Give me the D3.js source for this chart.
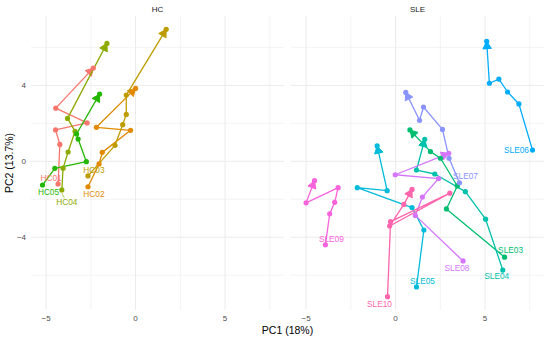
<!DOCTYPE html>
<html lang="en">
<head>
<meta charset="UTF-8">
<title>PCA trajectories</title>
<script src="https://d3js.org/d3.v7.min.js"></script>
<style>
  body { margin: 0; background: #fff; font-family: "Liberation Sans", Arial, sans-serif; }
  .grid line { stroke: #ebebeb; }
  .tick-label { font-size: 8px; fill: #4d4d4d; }
  .strip { font-size: 8px; fill: #1a1a1a; }
  .axis-title { font-size: 10.5px; fill: #000; }
  .lbl { font-size: 8.3px; }
</style>
</head>
<body>
<div id="chart"></div>
<script>
// one row per subject, six time points each (first = labelled start, last = arrow)
const subjects = ["HC01", "HC02", "HC03", "HC04", "HC05",
  "SLE03", "SLE04", "SLE05", "SLE06", "SLE07", "SLE08", "SLE09", "SLE10"];
const facets = ["HC", "HC", "HC", "HC", "HC",
  "SLE", "SLE", "SLE", "SLE", "SLE", "SLE", "SLE", "SLE"];
const pc1 = [
  [-4.33, -4.23, -4.47, -2.71, -4.46, -2.36],
  [-2.66, -2.04, -1.86, -0.28, -2.19, 0.00],
  [-2.66, -1.15, -0.72, -0.52, -0.52, 1.71],
  [-4.12, -4.05, -3.77, -3.38, -3.80, -1.60],
  [-5.20, -4.51, -2.75, -3.21, -3.30, -2.01],
  [6.09, 2.84, 3.45, 2.51, 1.95, 0.80],
  [5.99, 5.03, 3.90, 2.19, 1.17, 1.63],
  [1.17, 1.58, 0.92, -2.14, -0.47, -1.03],
  [7.65, 6.89, 6.26, 5.77, 5.24, 5.09],
  [3.57, 2.99, 2.62, 1.56, 1.34, 0.57],
  [3.77, 1.10, 1.50, 2.40, -0.02, 2.97],
  [-3.92, -3.68, -3.40, -3.21, -5.00, -4.53],
  [-0.45, -0.28, 3.03, -0.33, 0.46, 0.92]
];
const pc2 = [
  [-1.19, 0.89, 1.65, 2.02, 2.80, 4.91],
  [-1.34, -0.14, 0.47, 1.63, 1.79, 3.84],
  [-0.77, 0.84, 1.93, 2.47, 3.49, 6.95],
  [-1.51, -0.36, 0.49, 1.58, 2.26, 6.21],
  [-1.25, -0.37, -0.02, 1.17, 1.44, 3.54],
  [-5.05, -2.51, -1.30, 0.16, 0.51, 1.65],
  [-5.73, -3.05, -1.60, -0.67, -0.46, 1.16],
  [-6.62, -3.62, -2.44, -1.39, -1.55, 0.81],
  [0.59, 3.02, 3.65, 4.33, 4.11, 6.32],
  [-1.13, 0.16, 1.68, 2.86, 2.16, 3.63],
  [-5.25, -2.85, -1.88, -0.91, -0.71, 0.42],
  [-4.40, -2.77, -2.16, -1.39, -2.19, -1.02],
  [-7.13, -3.18, -1.68, -3.41, -2.27, -1.48]
];
const facetNames = ["HC", "SLE"];
const xMajor = [-5, 0, 5], xMinor = [-2.5, 2.5, 7.5];
const yMajor = [-4, 0, 4], yMinor = [-6, -2, 2, 6];

// ggplot default hue palette for 13 groups
const palette = ["#F8766D", "#E18A00", "#BE9C00", "#8CAB00", "#24B700", "#00BE70", "#00C1AB",
  "#00BBDA", "#00ACFC", "#8B93FF", "#D575FE", "#F962DD", "#FF65AC"];

// label nudges (px) standing in for ggrepel placement
const nudge = {
  HC01: [-7, -6], HC02: [6, 7], HC03: [6, -6], HC04: [5, 12], HC05: [6, 7],
  SLE03: [6, -7], SLE04: [-6, 6], SLE05: [6, -6], SLE06: [-16, 0],
  SLE07: [6, -7], SLE08: [-6, 7], SLE09: [6, -6], SLE10: [-8, 7]
};

const W = 550, H = 338;
const panelW = 253, gap = 7, left0 = 31, panelTop = 16, panelBottom = 310;

const svg = d3.select("#chart").append("svg").attr("width", W).attr("height", H);

const allX = pc1.flat(), allY = pc2.flat();
const xr = d3.extent(allX), yr = d3.extent(allY);
const xe = (xr[1] - xr[0]) * 0.05, ye = (yr[1] - yr[0]) * 0.05;
const y = d3.scaleLinear().domain([yr[0] - ye, yr[1] + ye]).range([panelBottom, panelTop]);

const color = d3.scaleOrdinal().domain(subjects).range(palette);

const fmt = v => v < 0 ? "\u2212" + Math.abs(v) : String(v);

facetNames.forEach((f, fi) => {
  const x0 = left0 + fi * (panelW + gap);
  const x = d3.scaleLinear().domain([xr[0] - xe, xr[1] + xe]).range([x0, x0 + panelW]);
  const g = svg.append("g");

  // grid
  const grid = g.append("g").attr("class", "grid");
  grid.selectAll(".vmin").data(xMinor).enter().append("line")
    .attr("x1", d => x(d)).attr("x2", d => x(d)).attr("y1", panelTop).attr("y2", panelBottom)
    .attr("stroke-width", 0.6);
  grid.selectAll(".hmin").data(yMinor).enter().append("line")
    .attr("x1", x0).attr("x2", x0 + panelW).attr("y1", d => y(d)).attr("y2", d => y(d))
    .attr("stroke-width", 0.6);
  grid.selectAll(".vmaj").data(xMajor).enter().append("line")
    .attr("x1", d => x(d)).attr("x2", d => x(d)).attr("y1", panelTop).attr("y2", panelBottom)
    .attr("stroke-width", 1);
  grid.selectAll(".hmaj").data(yMajor).enter().append("line")
    .attr("x1", x0).attr("x2", x0 + panelW).attr("y1", d => y(d)).attr("y2", d => y(d))
    .attr("stroke-width", 1);

  // strip + x tick labels
  g.append("text").attr("class", "strip").attr("x", x0 + panelW / 2).attr("y", 12)
    .attr("text-anchor", "middle").text(f);
  g.selectAll(".xt").data(xMajor).enter().append("text").attr("class", "tick-label")
    .attr("x", d => x(d)).attr("y", 321).attr("text-anchor", "middle").text(fmt);

  const idx = subjects.map((s, i) => i).filter(i => facets[i] === f);
  const line = d3.line().x(d => x(d[0])).y(d => y(d[1]));

  // paths
  idx.forEach(i => {
    const pts = pc1[i].map((v, j) => [v, pc2[i][j]]);
    g.append("path").attr("d", line(pts)).attr("fill", "none")
      .attr("stroke", color(subjects[i])).attr("stroke-width", 1.3)
      .attr("stroke-linejoin", "round");
    // closed arrow head on last segment
    const a = pts[pts.length - 2], b = pts[pts.length - 1];
    const bx = x(b[0]), by = y(b[1]);
    const ang = Math.atan2(by - y(a[1]), bx - x(a[0]));
    const L = 8.5, sp = Math.PI / 6;
    const p1 = [bx - L * Math.cos(ang - sp), by - L * Math.sin(ang - sp)];
    const p2 = [bx - L * Math.cos(ang + sp), by - L * Math.sin(ang + sp)];
    g.append("path").attr("d", `M${bx},${by}L${p1}L${p2}Z`)
      .attr("fill", color(subjects[i])).attr("stroke", color(subjects[i]))
      .attr("stroke-width", 1).attr("stroke-linejoin", "round");
  });

  // points
  idx.forEach(i => {
    g.selectAll(null).data(pc1[i].map((v, j) => [v, pc2[i][j]])).enter().append("circle")
      .attr("cx", d => x(d[0])).attr("cy", d => y(d[1])).attr("r", 2.6)
      .attr("fill", color(subjects[i]));
  });

  // labels at start point
  idx.forEach(i => {
    const s = subjects[i];
    const sx = x(pc1[i][0]), sy = y(pc2[i][0]);
    const [dx, dy] = nudge[s];
    if (Math.abs(dy) > 10) {
      g.append("line").attr("x1", sx).attr("y1", sy + 3).attr("x2", sx + dx * 0.5).attr("y2", sy + dy - 4)
        .attr("stroke", color(s)).attr("stroke-width", 0.6);
    }
    g.append("text").attr("class", "lbl").attr("x", sx + dx).attr("y", sy + dy)
      .attr("dy", "0.35em").attr("text-anchor", "middle")
      .attr("fill", color(s)).text(s);
  });

  if (fi === 0) {
    g.selectAll(".yt").data(yMajor).enter().append("text").attr("class", "tick-label")
      .attr("x", 26).attr("y", d => y(d)).attr("dy", "0.35em")
      .attr("text-anchor", "end").text(fmt);
  }
});

svg.append("text").attr("class", "axis-title")
  .attr("x", left0 + panelW + gap / 2).attr("y", 334).attr("text-anchor", "middle")
  .text("PC1 (18%)");
svg.append("text").attr("class", "axis-title")
  .attr("transform", `translate(13,${(panelTop + panelBottom) / 2}) rotate(-90)`)
  .attr("text-anchor", "middle").text("PC2 (13.7%)");
</script>
</body>
</html>
